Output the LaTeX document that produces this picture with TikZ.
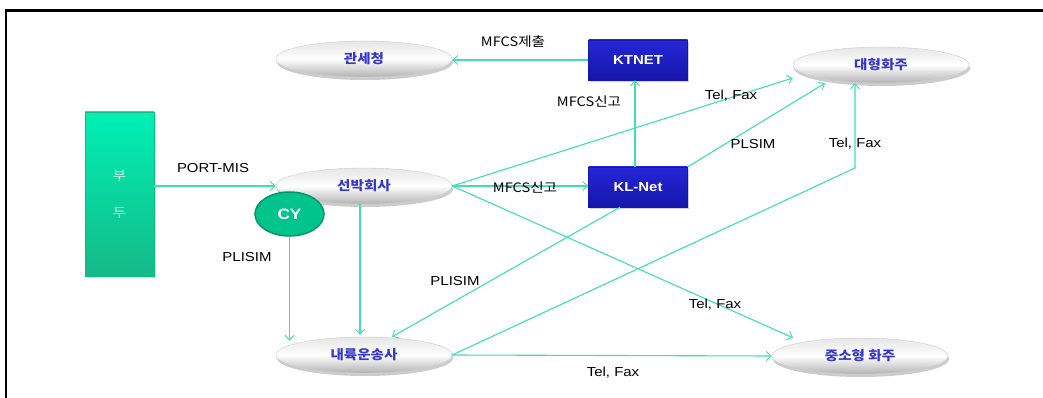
\documentclass[tikz,border=0pt]{standalone}
\usepackage{fontspec}
\newfontfamily\latf[FakeStretch=1.15]{Liberation Sans}
\newfontfamily\krf[FakeStretch=1.12]{Noto Sans CJK KR}
\usetikzlibrary{arrows.meta,shapes.geometric,shadows,calc}
\definecolor{teal1}{RGB}{64,222,178}
\definecolor{navy1}{RGB}{38,38,215}
\definecolor{navy2}{RGB}{22,22,170}
\definecolor{lbl}{RGB}{55,55,205}
\definecolor{cyfill}{RGB}{0,196,140}
\definecolor{cyline}{RGB}{0,150,105}
\definecolor{dock1}{RGB}{0,240,180}
\definecolor{dock2}{RGB}{20,185,135}
\begin{document}
\begin{tikzpicture}[x=1pt,y=-1pt,
  conn/.style={draw=teal1, line width=1.1pt, -{Straight Barb[length=5pt,width=9pt,line width=0.9pt]}},
  oval/.style={ellipse, minimum width=176pt, minimum height=36pt, inner sep=0pt,
    top color=gray!20, bottom color=gray!60, middle color=white, draw=gray!40, line width=0.4pt,
    drop shadow={shadow xshift=1pt, shadow yshift=-3pt, opacity=0.4, fill=gray},
    font=\krf\bfseries\fontsize{13}{15}\selectfont, text=lbl},
  sysbox/.style={rectangle, minimum width=99pt, minimum height=40pt, inner sep=0pt,
    top color=navy1, bottom color=navy2, draw=navy2,
    drop shadow={shadow xshift=1.5pt, shadow yshift=-2pt, opacity=0.35, fill=gray},
    font=\latf\bfseries\fontsize{13}{15}\selectfont, text=white},
  dockbox/.style={rectangle, minimum width=69pt, minimum height=164pt, inner sep=0pt,
    top color=dock1, bottom color=dock2, draw=dock2, align=center,
    drop shadow={shadow xshift=1.5pt, shadow yshift=-2pt, opacity=0.3, fill=gray},
    font=\krf\fontsize{13}{15}\selectfont, text=white!85!teal},
  cybox/.style={ellipse, minimum width=69pt, minimum height=44pt, inner sep=0pt,
    fill=cyfill, draw=cyline, line width=1.5pt,
    font=\latf\bfseries\fontsize{15}{17}\selectfont, text=white},
  lab/.style={font=\latf\fontsize{13}{15}\selectfont, text=black, inner sep=1pt},
  klab/.style={font=\krf\fontsize{13}{15}\selectfont, text=black, inner sep=1pt},
]
\useasboundingbox (0,0) rectangle (1043,398);
\fill[white] (0,0) rectangle (1043,398);
\draw[line width=3pt] (1043,10.5) -- (4.8,10.5);
\draw[line width=2.4pt] (6,9) -- (6,398);

% nodes
\node[oval] (gw) at (364,59) {관세청};
\node[sysbox] (kt) at (638,60) {KTNET};
\node[oval] (dh) at (881,65) {대형화주};
\node[sysbox] (kl) at (638,187) {KL-Net};
\node[oval] (sb) at (364,186) {선박회사};
\node[dockbox] (bd) at (119.5,194) {부\\[22pt]두};
\node[cybox] (cy) at (289.5,214) {CY};
\node[oval] (nr) at (364,355) {내륙운송사};
\node[oval] (js) at (860,356) {중소형 화주};

% connectors
\coordinate (bend) at (855,168);
\draw[conn] (bd.east |- sb.west) -- (sb.west);
\draw[conn] (kt.west) -- (kt.west -| gw.east);
\draw[conn] ($(kl.north)+(-3,0)$) -- ($(kt.south)+(-3,0)$);
\draw[conn] (sb.east) -- (sb.east -| kl.west);
\draw[conn] (sb.east) -- ($(dh.west)+(0,13)$);
\draw[conn] (kl.north east) -- ($(dh.south)+(-56,0)$);
\draw[conn] (nr.east) -- (bend) -- (bend |- dh.south);
\draw[conn] (sb.east) -- ($(js.north)+(-67,0)$);
\draw[conn] ($(sb.south)+(-4,0)$) -- ($(nr.north)+(-4,-2)$);
\draw[conn] (cy.south) -- ($(cy.south |- nr.north)+(0,4)$);
\draw[conn] ($(kl.south)+(-18,0)$) -- ($(nr.north)+(28,0)$);
\draw[conn] (nr.east) -- (js.west);

% labels
\node[lab] (l1) at (213,168) {PORT-MIS};
\node[klab] (l2) at (513,42) {MFCS제출};
\node[klab] (l3) at (589,102) {MFCS신고};
\node[lab] (l4) at (731,96) {Tel, Fax};
\node[lab] (l5) at (753,144) {PLSIM};
\node[lab] (l6) at (855,144) {Tel, Fax};
\node[klab] (l7) at (525,188) {MFCS신고};
\node[lab] (l8) at (247,257) {PLISIM};
\node[lab] (l9) at (455,281) {PLISIM};
\node[lab] (l10) at (715,305) {Tel, Fax};
\node[lab] (l11) at (613,373) {Tel, Fax};
\end{tikzpicture}
\end{document}
